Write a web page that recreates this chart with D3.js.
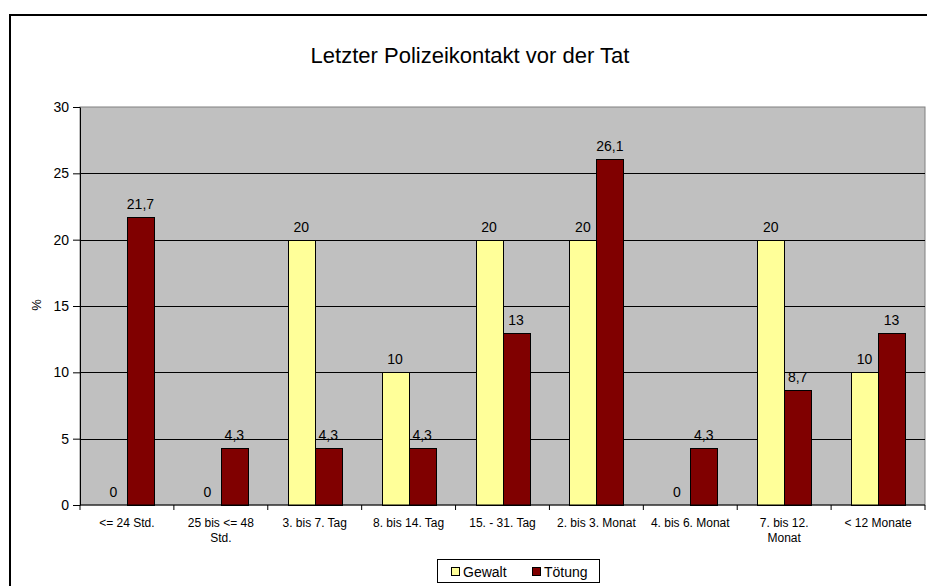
<!DOCTYPE html>
<html>
<head>
<meta charset="utf-8">
<script src="https://cdn.jsdelivr.net/npm/d3@7"></script>
<style>
  body { margin: 0; background: #fff; }
  text { font-family: "Liberation Sans", Arial, sans-serif; fill: #000; }
</style>
</head>
<body>
<script>
const categories = [
  ["<= 24 Std."],
  ["25 bis <= 48", "Std."],
  ["3. bis 7. Tag"],
  ["8. bis 14. Tag"],
  ["15. - 31. Tag"],
  ["2. bis 3. Monat"],
  ["4. bis 6. Monat"],
  ["7. bis 12.", "Monat"],
  ["< 12 Monate"]
];
const gewalt = [0, 0, 20, 10, 20, 20, 0, 20, 10];
const toetung = [21.7, 4.3, 4.3, 4.3, 13, 26.1, 4.3, 8.7, 13];
const seriesNames = ["Gewalt", "Tötung"];
const seriesColors = ["#FFFF99", "#800000"];
const yTicks = [0, 5, 10, 15, 20, 25, 30];

const w = 927;
const h = 586;
const plot = { left: 80, top: 107, right: 925, bottom: 505 };

const svg = d3.select("body").append("svg").attr("width", w).attr("height", h);

// outer frame
svg.append("rect")
  .attr("x", 10).attr("y", 15)
  .attr("width", 940).attr("height", 600)
  .attr("fill", "#fff")
  .attr("stroke", "#000")
  .attr("stroke-width", 2);

svg.append("text")
  .attr("x", 470).attr("y", 63)
  .attr("text-anchor", "middle")
  .style("font-size", "22px")
  .text("Letzter Polizeikontakt vor der Tat");

const idx = d3.range(categories.length);
const x = d3.scaleBand().domain(idx).range([plot.left, plot.right]);
const y = d3.scaleLinear().domain([0, 30]).range([plot.bottom, plot.top]);
const sub = d3.scaleBand().domain([0, 1]).range([0, 54]);
const groupOffset = (x.bandwidth() - 54) / 2;

// plot background
svg.append("rect")
  .attr("x", plot.left).attr("y", plot.top)
  .attr("width", plot.right - plot.left).attr("height", plot.bottom - plot.top)
  .attr("fill", "#C0C0C0")
  .attr("stroke", "#808080");

// gridlines
svg.append("g")
  .selectAll("line")
  .data(yTicks.filter(d => d > 0 && d < 30))
  .enter()
  .append("line")
  .attr("x1", plot.left).attr("x2", plot.right)
  .attr("y1", d => Math.round(y(d)) + 0.5).attr("y2", d => Math.round(y(d)) + 0.5)
  .attr("stroke", "#000");

// bars
const data = [];
idx.forEach(i => {
  data.push({ i: i, s: 0, v: gewalt[i] });
  data.push({ i: i, s: 1, v: toetung[i] });
});

svg.append("g")
  .selectAll("rect")
  .data(data.filter(d => d.v > 0))
  .enter()
  .append("rect")
  .attr("x", d => Math.round(x(d.i) + groupOffset + sub(d.s)) + 0.5)
  .attr("y", d => Math.round(y(d.v)) + 0.5)
  .attr("width", sub.bandwidth())
  .attr("height", d => Math.round(y(0)) - Math.round(y(d.v)))
  .attr("fill", d => seriesColors[d.s])
  .attr("stroke", "#000");

// value labels
svg.append("g")
  .selectAll("text")
  .data(data)
  .enter()
  .append("text")
  .attr("x", d => x(d.i) + groupOffset + sub(d.s) + sub.bandwidth() / 2)
  .attr("y", d => y(d.v) - 8)
  .attr("text-anchor", "middle")
  .style("font-size", "14px")
  .text(d => String(d.v).replace(".", ","));

// y axis
const yAxis = d3.axisLeft(y).tickValues(yTicks).tickSize(7).tickSizeOuter(0).tickPadding(4);
const gy = svg.append("g")
  .attr("transform", "translate(" + plot.left + ",0)")
  .call(yAxis);
gy.selectAll("text").style("font-size", "14px");
gy.select(".domain").attr("stroke", "#000");

svg.append("text")
  .attr("transform", "translate(41,305) rotate(-90)")
  .attr("text-anchor", "middle")
  .style("font-size", "13px")
  .text("%");

// x axis
const gx = svg.append("g")
  .attr("transform", "translate(0," + plot.bottom + ")");
gx.append("line")
  .attr("x1", plot.left).attr("x2", plot.right)
  .attr("stroke", "#000");
gx.selectAll("line.tick")
  .data(idx.concat([categories.length]))
  .enter()
  .append("line")
  .attr("class", "tick")
  .attr("x1", d => d < categories.length ? x(d) : plot.right)
  .attr("x2", d => d < categories.length ? x(d) : plot.right)
  .attr("y1", 0).attr("y2", 5)
  .attr("stroke", "#000");

const labels = gx.selectAll("text")
  .data(idx)
  .enter()
  .append("text")
  .attr("text-anchor", "middle")
  .attr("x", d => x(d) + x.bandwidth() / 2)
  .attr("y", 22)
  .style("font-size", "12px");
labels.selectAll("tspan")
  .data(d => categories[d].map(t => ({ t: t, cx: x(d) + x.bandwidth() / 2 })))
  .enter()
  .append("tspan")
  .attr("x", d => d.cx)
  .attr("dy", (d, j) => j === 0 ? 0 : 15)
  .text(d => d.t);

// legend
const legend = svg.append("g").attr("transform", "translate(437,559)");
legend.append("rect")
  .attr("x", 0.5).attr("y", 0.5)
  .attr("width", 162).attr("height", 23)
  .attr("fill", "#fff")
  .attr("stroke", "#000");
const items = legend.selectAll("g.item")
  .data(seriesNames)
  .enter()
  .append("g")
  .attr("class", "item")
  .attr("transform", (d, i) => "translate(" + (14 + i * 81) + ",0)");
items.append("rect")
  .attr("x", 0.5).attr("y", 8.5)
  .attr("width", 8).attr("height", 8)
  .attr("fill", (d, i) => seriesColors[i])
  .attr("stroke", "#000");
items.append("text")
  .attr("x", 12).attr("y", 18)
  .style("font-size", "14px")
  .text(d => d);
</script>
</body>
</html>
